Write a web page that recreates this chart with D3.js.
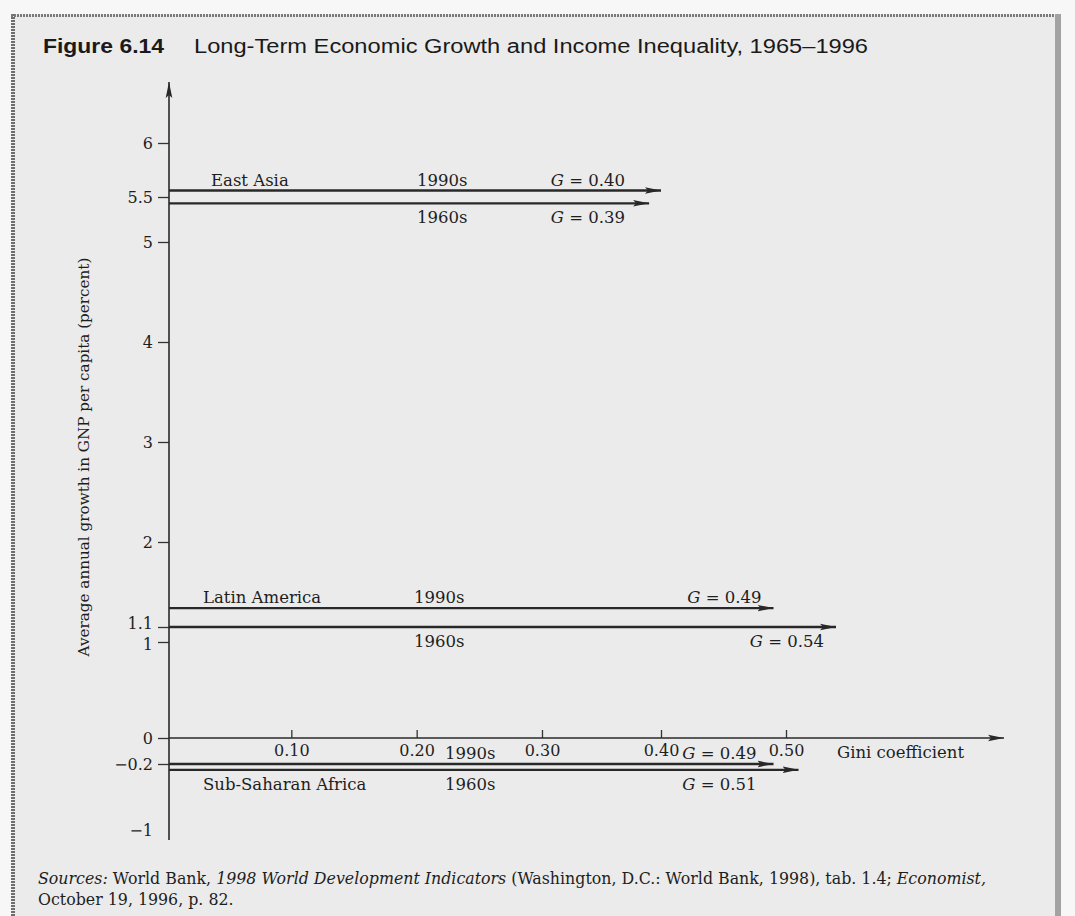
<!DOCTYPE html>
<html><head><meta charset="utf-8">
<script src="https://cdn.jsdelivr.net/npm/d3@7"></script>
<style>html,body{margin:0;padding:0;background:#f6f6f6;} svg{display:block;}</style>
</head><body><svg id="c" width="1075" height="916"></svg>
<script>
// ---------- data ----------
const regions = ["East Asia", "Latin America", "Sub-Saharan Africa"];
const periods = ["1990s", "1960s"];
const growth1990s = [5.56, 1.3, -0.2];
const growth1960s = [5.43, 1.1, -0.27];
const gini1990s = [0.40, 0.49, 0.49];
const gini1960s = [0.39, 0.54, 0.51];
const yTickValues = [6, 5.5, 5, 4, 3, 2, 1.1, 1, 0, -0.2, -1];
const xTickValues = [0.10, 0.20, 0.30, 0.40, 0.50];
const titleNum = "Figure 6.14";
const titleText = "Long-Term Economic Growth and Income Inequality, 1965–1996";
const yTitle = "Average annual growth in GNP per capita (percent)";
const xTitle = "Gini coefficient";
const sourceParts1 = [["Sources:", "i"], [" World Bank, ", ""], ["1998 World Development Indicators", "i"], [" (Washington, D.C.: World Bank, 1998), tab. 1.4; ", ""], ["Economist,", "i"]];
const sourceLine2 = "October 19, 1996, p. 82.";

// ---------- setup ----------
const svg = d3.select("#c");
const SERIF = "'DejaVu Serif', 'Liberation Serif', serif";
const SANS = "'Liberation Sans', Arial, sans-serif";
const INK = "#1e1e1e";

// page / frame
svg.append("rect").attr("x", 0).attr("y", 0).attr("width", 1075).attr("height", 916).attr("fill", "#f7f7f7");
svg.append("rect").attr("x", 12).attr("y", 15).attr("width", 1046).attr("height", 910).attr("fill", "#ebebeb");
svg.append("line").attr("x1", 13).attr("x2", 13).attr("y1", 14).attr("y2", 916)
  .attr("stroke", "#6d6d6d").attr("stroke-width", 4).attr("stroke-dasharray", "2 1");
svg.append("line").attr("x1", 11).attr("x2", 1058).attr("y1", 15.5).attr("y2", 15.5)
  .attr("stroke", "#7a7a7a").attr("stroke-width", 3).attr("stroke-dasharray", "2 1");
svg.append("rect").attr("x", 1055).attr("y", 14).attr("width", 6).attr("height", 902).attr("fill", "#a3a3a3");

// arrow marker
const defs = svg.append("defs");
defs.append("marker").attr("id", "ah").attr("viewBox", "0 0 16 8").attr("refX", 16).attr("refY", 4)
  .attr("markerWidth", 16).attr("markerHeight", 8).attr("orient", "auto").attr("markerUnits", "userSpaceOnUse")
  .append("path").attr("d", "M0,0.7 L16,4 L0,7.3 L3,4 Z").attr("fill", "#282828");

// ---------- scales ----------
const axisX = 169;
const x = d3.scaleLinear().domain([0, 0.3, 0.4, 0.5]).range([166, 542, 661, 786]);
const y = d3.scaleLinear().domain([-1, -0.2, 0, 1, 1.1, 2, 5, 5.5, 6])
  .range([830, 764, 738, 642, 627, 542, 242, 197, 143]);
const y0 = y(0);

// ---------- axes ----------
const gy = svg.append("g").attr("transform", `translate(${axisX},0)`)
  .call(d3.axisLeft(y).tickValues(yTickValues).tickSize(11).tickPadding(5)
    .tickFormat(d => String(d).replace("-", "\u2212")));
gy.select(".domain").remove();
gy.selectAll(".tick line").attr("stroke", "#333").attr("stroke-width", 1.3)
  .filter(d => d === -1).remove();
gy.selectAll(".tick text").attr("font-family", SERIF).attr("font-size", 16).attr("fill", INK)
  .attr("dy", d => d === 1.1 ? "0.12em" : d === 1 ? "0.45em" : "0.32em");

const gx = svg.append("g").attr("transform", `translate(0,${y0})`)
  .call(d3.axisBottom(x).tickValues(xTickValues).tickSize(-8).tickPadding(7).tickFormat(d3.format(".2f")));
gx.select(".domain").remove();
gx.selectAll(".tick line").attr("stroke", "#333").attr("stroke-width", 1.3);
gx.selectAll(".tick text").attr("font-family", SERIF).attr("font-size", 16).attr("fill", INK);

// axis lines with arrows
svg.append("line").attr("x1", axisX).attr("x2", axisX).attr("y1", 840).attr("y2", 82)
  .attr("stroke", "#2a2a2a").attr("stroke-width", 1.6).attr("marker-end", "url(#ah)");
svg.append("line").attr("x1", axisX).attr("x2", 1004).attr("y1", y0).attr("y2", y0)
  .attr("stroke", "#2a2a2a").attr("stroke-width", 1.6).attr("marker-end", "url(#ah)");

// axis titles
svg.append("text").attr("transform", `translate(89,457) rotate(-90)`).attr("text-anchor", "middle")
  .attr("font-family", SERIF).attr("font-size", 15.2).attr("fill", INK).text(yTitle);
svg.append("text").attr("x", 837).attr("y", y0 + 20).attr("font-family", SERIF).attr("font-size", 16.5)
  .attr("fill", INK).text(xTitle);

// ---------- series arrows ----------
const items = [];
regions.forEach((r, i) => {
  items.push({ i, region: r, period: periods[0], g: gini1990s[i], v: growth1990s[i], top: true });
  items.push({ i, region: r, period: periods[1], g: gini1960s[i], v: growth1960s[i], top: false });
});

svg.append("g").selectAll("line").data(items).join("line")
  .attr("x1", axisX).attr("x2", d => x(d.g))
  .attr("y1", d => y(d.v)).attr("y2", d => y(d.v))
  .attr("stroke", "#282828").attr("stroke-width", 2.3).attr("marker-end", "url(#ah)");

const labY = d => d.top ? y(d.v) - 5 : y(d.v) + 20;
const periodX = [417, 414, 445];
const alignG = [true, false, true];   // G labels of a region share one right edge
const gOffset = [24, 12, 17];
const lab = svg.append("g").attr("font-family", SERIF).attr("font-size", 16.5).attr("fill", INK);

// period labels
lab.selectAll("text.per").data(items).join("text").attr("class", "per")
  .attr("x", d => periodX[d.i]).attr("y", labY).text(d => d.period);

// region names (above top line, except Sub-Saharan Africa below bottom line)
lab.selectAll("text.reg").data(items.filter(d => (d.i < 2) === d.top)).join("text").attr("class", "reg")
  .attr("x", d => d.i === 0 ? 211 : 203).attr("y", labY).text(d => d.region);

// G labels
const gEnd = d => (alignG[d.i] ? x(Math.min(gini1990s[d.i], gini1960s[d.i])) : x(d.g)) - gOffset[d.i];
const gl = lab.selectAll("text.gl").data(items).join("text").attr("class", "gl")
  .attr("text-anchor", "end").attr("x", gEnd).attr("y", labY);
gl.append("tspan").attr("font-style", "italic").text("G");
gl.append("tspan").text(d => " = " + d3.format(".2f")(d.g));

// ---------- title ----------
function fitW(sel, w) {
  const bw = sel.node().getBBox().width;
  const fs = parseFloat(sel.attr("font-size"));
  sel.attr("font-size", fs * w / bw);
}
svg.append("text").attr("x", 43).attr("y", 53).attr("font-family", SANS).attr("font-weight", "bold")
  .attr("font-size", 19.5).attr("fill", "#1a1a1a").text(titleNum)
  .attr("textLength", 121).attr("lengthAdjust", "spacingAndGlyphs");
svg.append("text").attr("x", 194).attr("y", 53).attr("font-family", SANS)
  .attr("font-size", 19.5).attr("fill", "#1a1a1a").text(titleText)
  .attr("textLength", 674).attr("lengthAdjust", "spacingAndGlyphs");

// ---------- sources ----------
const s1 = svg.append("text").attr("x", 38).attr("y", 884).attr("font-family", SERIF)
  .attr("font-size", 15).attr("fill", INK);
sourceParts1.forEach(p => s1.append("tspan").attr("font-style", p[1] === "i" ? "italic" : "normal").text(p[0]));
fitW(s1, 949);
svg.append("text").attr("x", 38).attr("y", 905).attr("font-family", SERIF)
  .attr("font-size", s1.attr("font-size")).attr("fill", INK).text(sourceLine2);
</script>
</body></html>
